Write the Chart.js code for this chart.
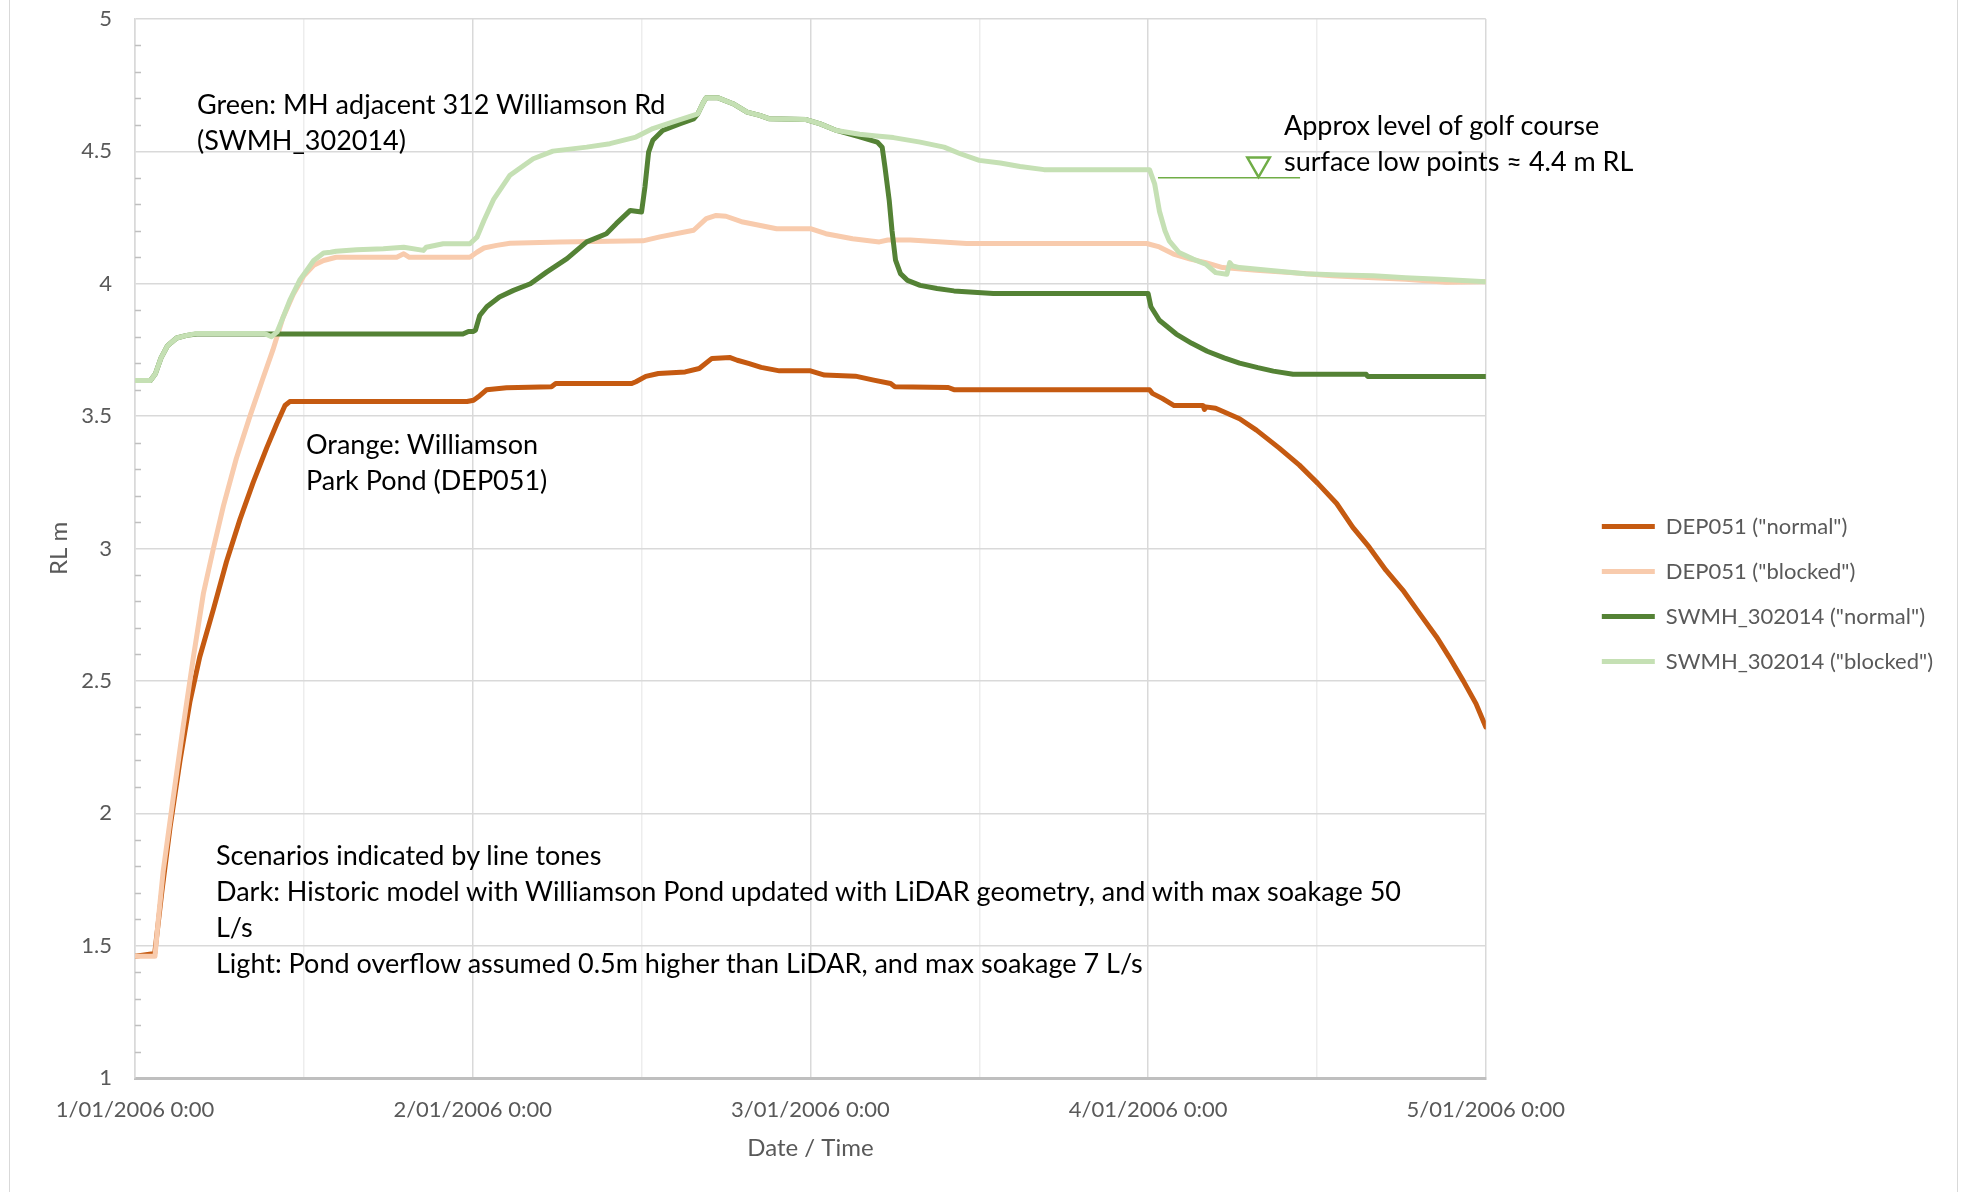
<!DOCTYPE html>
<html>
<head>
<meta charset="utf-8">
<script src="https://cdn.jsdelivr.net/npm/chart.js@4.4.1/dist/chart.umd.min.js"></script>
<style>
  html, body { margin: 0; padding: 0; background: #fff; }
  #wrap { position: relative; width: 1966px; height: 1192px; }
  #edgeL, #edgeR { position: absolute; top: 0; width: 0; height: 1192px; border-left: 1.5px solid #D9D9D9; }
  #edgeL { left: 9px; }
  #edgeR { left: 1957px; }
  .note { position: absolute; font-family: Lato, sans-serif; font-size: 27px; line-height: 36px; color: #000; white-space: nowrap; }
</style>
</head>
<body>
<div id="wrap">
  <canvas id="rl"></canvas>
  <div id="edgeL"></div><div id="edgeR"></div>
  <div class="note" style="left:197px; top:86px;">Green: MH adjacent 312 Williamson Rd<br>(SWMH_302014)</div>
  <div class="note" style="left:306px; top:426px;">Orange: Williamson<br>Park Pond (DEP051)</div>
  <div class="note" style="left:1284px; top:107px;">Approx level of golf course<br>surface low points ≈ 4.4 m RL</div>
  <div class="note" style="left:216px; top:837px;">Scenarios indicated by line tones<br>Dark: Historic model with Williamson Pond updated with LiDAR geometry, and with max soakage 50<br>L/s<br>Light: Pond overflow assumed 0.5m higher than LiDAR, and max soakage 7 L/s</div>
</div>
<script>
//x values are hours since 1/01/2006 0:00, y values are RL in m
const dayLabels = ["1/01/2006 0:00", "2/01/2006 0:00", "3/01/2006 0:00", "4/01/2006 0:00", "5/01/2006 0:00"];

const dep051NormalHrs = [0, 1.4, 1.9, 2.5, 3.2, 3.9, 4.6, 5.57, 6.5, 7.46, 8.4, 9.36, 10.07, 10.66, 11.0, 23.6, 24.06, 24.4, 25.0, 26.4, 29.6, 29.9, 35.3, 35.6, 36.3, 37.2, 39.1, 40.1, 41.0, 42.3, 42.8, 43.6, 44.5, 45.8, 48.0, 49.0, 51.2, 52.5, 53.7, 54.0, 57.8, 58.2, 72.1, 72.3, 73.0, 73.85, 75.9, 76.0, 76.1, 76.8, 78.5, 79.7, 81.3, 82.75, 84.06, 85.4, 86.55, 87.7, 88.9, 90.1, 91.3, 92.5, 93.4, 94.4, 95.3, 96];
const dep051NormalRL = [1.46, 1.47, 1.70, 1.95, 2.20, 2.42, 2.59, 2.77, 2.95, 3.11, 3.25, 3.38, 3.47, 3.54, 3.555, 3.555, 3.56, 3.573, 3.60, 3.607, 3.611, 3.623, 3.623, 3.63, 3.65, 3.661, 3.667, 3.68, 3.718, 3.721, 3.711, 3.699, 3.684, 3.671, 3.671, 3.655, 3.651, 3.636, 3.623, 3.611, 3.608, 3.60, 3.60, 3.586, 3.567, 3.54, 3.54, 3.525, 3.535, 3.53, 3.49, 3.447, 3.38, 3.315, 3.246, 3.17, 3.08, 3.006, 2.918, 2.843, 2.754, 2.666, 2.59, 2.50, 2.414, 2.326];

const dep051BlockedHrs = [0, 1.42, 1.66, 2.0, 2.72, 3.43, 4.15, 4.86, 5.57, 6.28, 7.2, 8.17, 9.1, 9.8, 10.5, 11.25, 12.0, 12.7, 13.4, 14.3, 18.6, 19.1, 19.5, 23.8, 24.3, 24.8, 25.7, 26.65, 30.2, 36.1, 37.3, 39.7, 40.6, 41.3, 42.0, 43.2, 45.6, 48.0, 49.1, 51.0, 52.9, 53.5, 55.1, 59.1, 71.9, 72.8, 73.8, 75.0, 76.1, 77.3, 79.7, 82.1, 85.1, 88.0, 90.3, 93.2, 96];
const dep051BlockedRL = [1.46, 1.46, 1.60, 1.78, 2.06, 2.33, 2.59, 2.83, 3.00, 3.16, 3.34, 3.50, 3.644, 3.75, 3.87, 3.96, 4.03, 4.07, 4.088, 4.10, 4.10, 4.113, 4.10, 4.10, 4.119, 4.135, 4.145, 4.153, 4.158, 4.162, 4.177, 4.202, 4.246, 4.258, 4.255, 4.233, 4.208, 4.208, 4.189, 4.17, 4.158, 4.165, 4.165, 4.152, 4.152, 4.139, 4.112, 4.093, 4.08, 4.061, 4.051, 4.042, 4.03, 4.023, 4.017, 4.006, 4.008];

const swmhNormalHrs = [0, 1.1, 1.45, 1.85, 2.3, 2.96, 3.67, 4.4, 23.3, 23.7, 24.05, 24.2, 24.5, 25.0, 25.9, 26.9, 28.1, 29.25, 30.7, 32.1, 33.5, 34.2, 35.2, 36.0, 36.24, 36.5, 36.8, 37.5, 38.7, 39.7, 40.0, 40.4, 40.6, 41.4, 42.5, 43.5, 44.4, 45.1, 47.7, 48.7, 49.85, 51.5, 52.75, 53.1, 53.3, 53.6, 53.8, 54.05, 54.4, 54.9, 55.8, 57.0, 58.2, 61.0, 72.0, 72.2, 72.8, 74.0, 75.1, 76.2, 77.4, 78.5, 79.8, 80.9, 82.3, 87.5, 87.6, 96];
const swmhNormalRL = [3.635, 3.635, 3.66, 3.72, 3.765, 3.795, 3.805, 3.81, 3.81, 3.82, 3.82, 3.825, 3.88, 3.913, 3.95, 3.975, 4.0, 4.044, 4.095, 4.158, 4.189, 4.227, 4.277, 4.271, 4.365, 4.497, 4.542, 4.579, 4.604, 4.623, 4.642, 4.686, 4.703, 4.703, 4.68, 4.648, 4.636, 4.623, 4.62, 4.604, 4.579, 4.555, 4.535, 4.516, 4.44, 4.315, 4.2, 4.089, 4.038, 4.013, 3.994, 3.982, 3.973, 3.963, 3.963, 3.913, 3.862, 3.81, 3.775, 3.745, 3.72, 3.70, 3.683, 3.67, 3.658, 3.658, 3.65, 3.65];

const swmhBlockedHrs = [0, 1.1, 1.45, 1.85, 2.3, 2.96, 3.67, 4.4, 9.2, 9.7, 10.1, 10.5, 11.0, 11.7, 12.2, 12.7, 13.4, 13.9, 14.3, 15.75, 17.65, 19.1, 20.5, 20.7, 21.9, 23.8, 24.3, 24.8, 25.5, 26.65, 28.3, 29.7, 32.1, 33.75, 35.6, 36.8, 38.25, 40.0, 40.4, 40.6, 41.4, 42.5, 43.5, 44.4, 45.1, 47.7, 48.7, 49.85, 51.5, 52.7, 53.9, 55.8, 57.5, 58.65, 60.0, 61.5, 62.9, 64.6, 72.1, 72.47, 72.8, 73.2, 73.5, 74.2, 75.2, 76.1, 76.8, 77.6, 77.8, 78.0, 78.5, 80.9, 83.2, 85.6, 88.0, 90.3, 92.7, 96];
const swmhBlockedRL = [3.635, 3.635, 3.66, 3.72, 3.765, 3.795, 3.805, 3.812, 3.812, 3.80, 3.818, 3.87, 3.937, 4.013, 4.05, 4.088, 4.116, 4.119, 4.123, 4.128, 4.132, 4.138, 4.126, 4.138, 4.151, 4.151, 4.176, 4.239, 4.32, 4.41, 4.472, 4.501, 4.516, 4.529, 4.554, 4.586, 4.611, 4.642, 4.686, 4.703, 4.703, 4.68, 4.648, 4.636, 4.623, 4.62, 4.604, 4.579, 4.565, 4.558, 4.552, 4.535, 4.516, 4.491, 4.466, 4.456, 4.443, 4.431, 4.431, 4.376, 4.275, 4.20, 4.162, 4.118, 4.093, 4.074, 4.042, 4.036, 4.08, 4.067, 4.061, 4.049, 4.038, 4.033, 4.03, 4.023, 4.017, 4.008];

//golf course low point marker (level line + triangle symbol)
const golfLineHrs = [72.7, 82.8];
const golfLineRL = [4.4, 4.4];
const golfMarkHrs = [79.85];
const golfMarkRL = [4.452];

function toPoints(hrs, vals){
    let pts = [];
    for(let i = 0; i < hrs.length; i++) pts.push({x: hrs[i], y: vals[i]});
    return pts;
}

function series(label, hrs, vals, colour, order){
    return {
        label: label,
        data: toPoints(hrs, vals),
        borderColor: colour,
        backgroundColor: colour,
        borderWidth: 5,
        pointRadius: 0,
        tension: 0,
        borderJoinStyle: "round",
        borderCapStyle: "round",
        order: order
    };
}

//small y ticks every 0.1 drawn just inside the axis, like excel minor ticks
const minorTicks = {
    id: "minorTicks",
    beforeDatasetsDraw(chart){
        const ctx = chart.ctx;
        const yScale = chart.scales.y;
        const left = chart.chartArea.left;
        ctx.save();
        ctx.strokeStyle = "#BFBFBF";
        ctx.lineWidth = 1.5;
        for(let v = 11; v < 50; v++){
            if(v % 5 == 0) continue;
            const py = Math.round(yScale.getPixelForValue(v/10)) + 0.5;
            ctx.beginPath();
            ctx.moveTo(left, py);
            ctx.lineTo(left + 6, py);
            ctx.stroke();
        }
        ctx.restore();
    }
};

Chart.defaults.font.family = "Lato";
Chart.defaults.color = "#595959";

let ctx = document.getElementById("rl");
ctx.width = 1966;
ctx.height = 1192;
let rlChart = new Chart(ctx, {
    type: "line",
    data: {
        datasets: [
            series('DEP051 ("normal")', dep051NormalHrs, dep051NormalRL, "#C55A11", 4),
            series('DEP051 ("blocked")', dep051BlockedHrs, dep051BlockedRL, "#F8CBAD", 3),
            series('SWMH_302014 ("normal")', swmhNormalHrs, swmhNormalRL, "#548235", 2),
            series('SWMH_302014 ("blocked")', swmhBlockedHrs, swmhBlockedRL, "#C5E0B4", 1),
            {
                label: "golfLevel",
                data: toPoints(golfLineHrs, golfLineRL),
                borderColor: "#70AD47",
                borderWidth: 1.5,
                pointRadius: 0,
                order: 0
            },{
                label: "golfMark",
                data: toPoints(golfMarkHrs, golfMarkRL),
                showLine: false,
                pointStyle: "triangle",
                rotation: 180,
                pointRadius: 13,
                pointBorderWidth: 2.5,
                pointBorderColor: "#70AD47",
                pointBackgroundColor: "rgba(0,0,0,0)",
                order: 0
            }
        ]
    },
    options: {
        responsive: false,
        animation: false,
        events: [],
        layout: { padding: { top: 19, right: 23, bottom: 23, left: 0 } },
        plugins: {
            tooltip: { enabled: false },
            legend: {
                position: "right",
                align: "center",
                maxWidth: 420,
                labels: {
                    usePointStyle: true,
                    pointStyle: "line",
                    pointStyleWidth: 53,
                    padding: 23,
                    color: "#595959",
                    font: { size: 22 },
                    filter: (item) => item.text.indexOf("golf") != 0,
                    sort: (a, b) => a.datasetIndex - b.datasetIndex
                }
            }
        },
        scales: {
            x: {
                type: "linear",
                min: 0,
                max: 96,
                afterFit: (scale) => { scale.height = 91; },
                ticks: {
                    stepSize: 12,
                    autoSkip: false,
                    maxRotation: 0,
                    padding: 19,
                    font: { size: 22 },
                    callback: (value) => value % 24 == 0 ? dayLabels[value/24] : ""
                },
                grid: {
                    drawTicks: false,
                    lineWidth: 1.5,
                    color: (c) => c.tick && c.tick.value % 24 == 0 ? "#D9D9D9" : "#EDEDED"
                },
                border: { color: "#BFBFBF", width: 3 },
                title: {
                    display: true,
                    text: "Date / Time",
                    color: "#595959",
                    font: { size: 24 },
                    padding: { top: 0, bottom: 6 }
                }
            },
            y: {
                min: 1,
                max: 5,
                afterFit: (scale) => { scale.width = 135; },
                ticks: {
                    stepSize: 0.5,
                    padding: 5,
                    font: { size: 22 },
                    callback: (value) => String(Math.round(value*10)/10)
                },
                grid: {
                    drawTicks: true,
                    tickLength: 18,
                    tickColor: "rgba(0,0,0,0)",
                    lineWidth: 1.5,
                    color: "#D9D9D9"
                },
                border: { color: "#D9D9D9", width: 1.5 },
                title: {
                    display: true,
                    text: "RL m",
                    color: "#595959",
                    font: { size: 24 },
                    padding: { top: 45, bottom: 0 }
                }
            },
            //empty axis only used to keep a gap between plot and legend
            gap: {
                position: "right",
                display: true,
                afterFit: (scale) => { scale.width = 93; },
                ticks: { display: false },
                grid: { display: false, drawTicks: false },
                border: { display: false }
            }
        }
    },
    plugins: [minorTicks]
});
</script>
</body>
</html>
